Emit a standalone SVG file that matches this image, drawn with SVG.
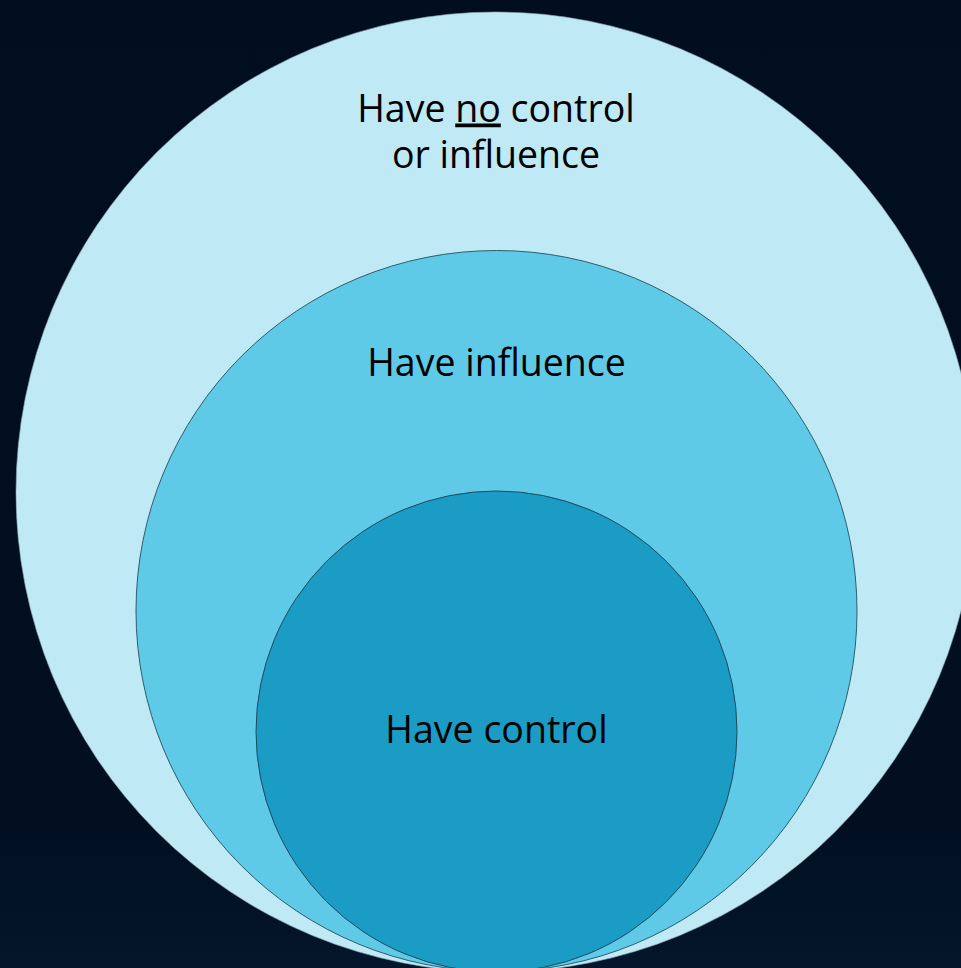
<svg xmlns="http://www.w3.org/2000/svg" width="961" height="968" viewBox="0 0 961 968">
  <defs>
    <linearGradient id="bg" x1="0" y1="0" x2="0" y2="1">
      <stop offset="0" stop-color="#010e1f"/>
      <stop offset="0.85" stop-color="#010f21"/>
      <stop offset="1" stop-color="#04162b"/>
    </linearGradient>
    <style>
      .label { font-family: "Open Sans", "Noto Sans", sans-serif; font-size: 37.5px; fill: #000000; text-anchor: middle; }
      .ring { stroke-width: 1; }
    </style>
  </defs>

  <!-- backdrop -->
  <rect x="0" y="0" width="961" height="968" fill="url(#bg)"/>

  <!-- outer ring: no control or influence -->
  <g id="no-control">
    <circle class="ring" cx="496" cy="492" r="480" fill="#bfe9f5" stroke="#8fa9b2" stroke-opacity="0.6"/>
    <text class="label" x="496" y="121.5">Have <tspan text-decoration="underline">no</tspan> control</text>
    <text class="label" x="496" y="168">or influence</text>
  </g>

  <!-- middle ring: influence -->
  <g id="influence">
    <circle class="ring" cx="496.5" cy="611" r="360.5" fill="#5ecae8" stroke="#2e5d6c"/>
    <text class="label" x="496.5" y="376">Have influence</text>
  </g>

  <!-- inner ring: control -->
  <g id="control">
    <circle class="ring" cx="496.5" cy="731.5" r="240.5" fill="#1a9cc4" stroke="#1f4a5a"/>
    <text class="label" x="496.5" y="742.5">Have control</text>
  </g>

  <g id="connectors"/>
</svg>
